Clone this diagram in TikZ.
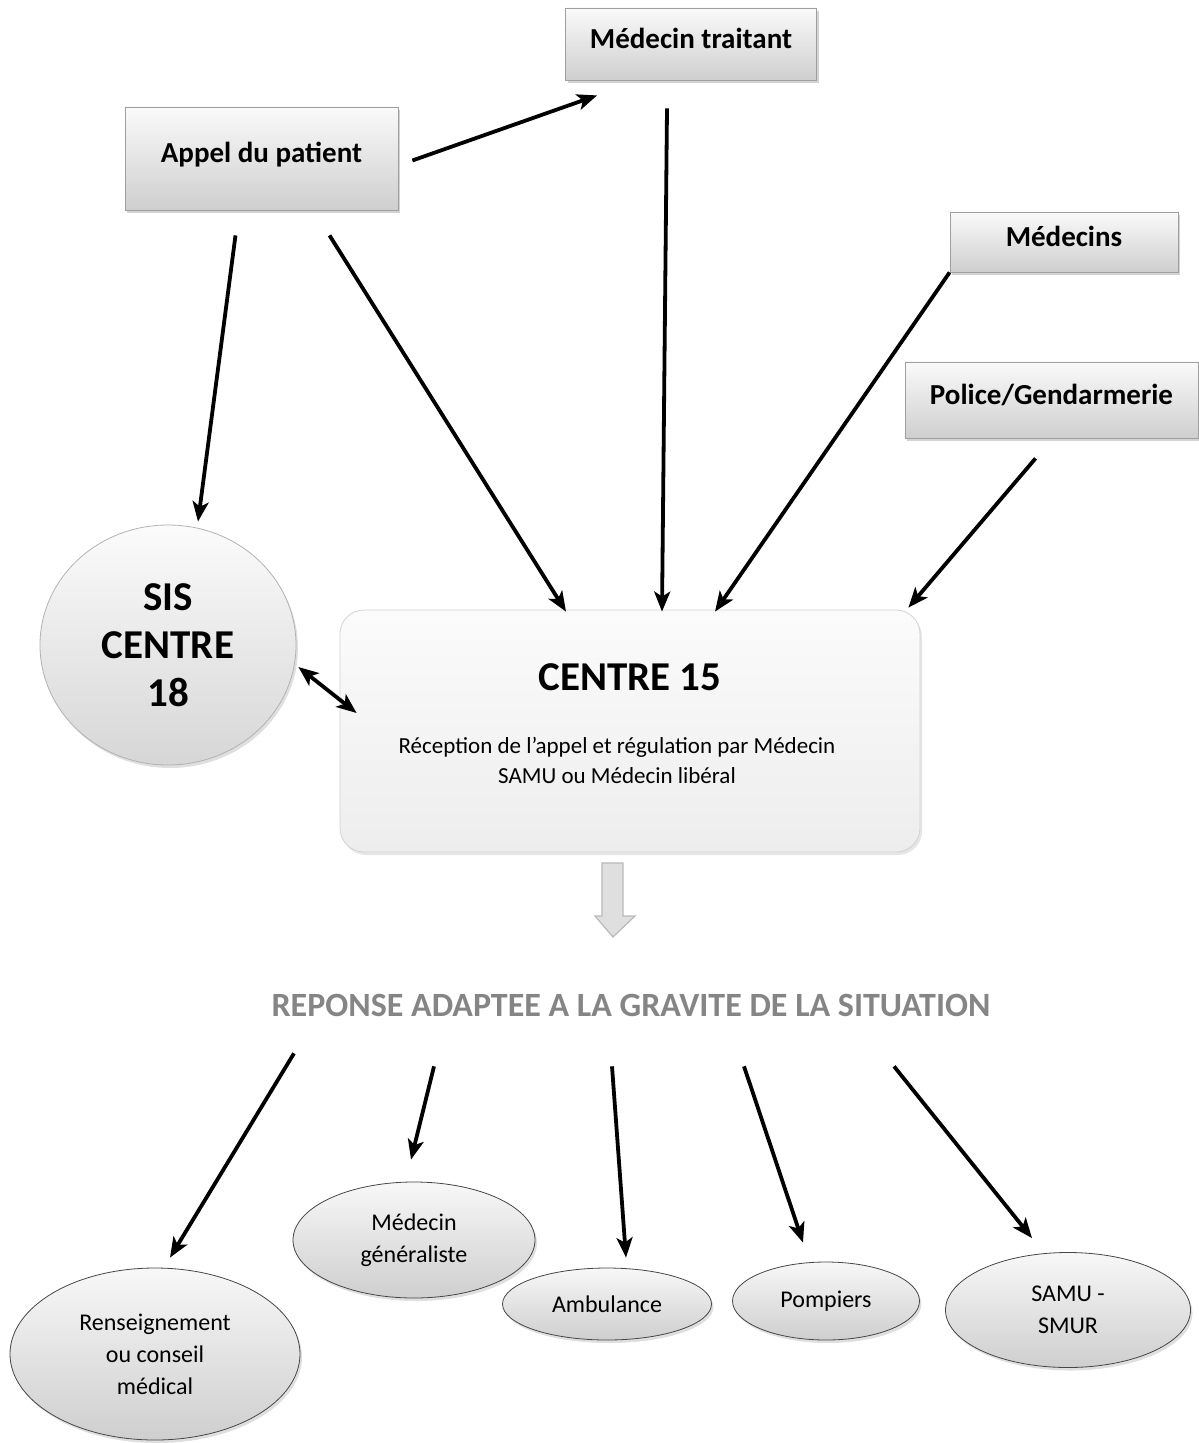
\documentclass[tikz,border=0pt]{standalone}
\usepackage{fontspec}
\setmainfont{Carlito}
\usetikzlibrary{arrows.meta,shadows,shapes.geometric}
\definecolor{repgray}{HTML}{858585}

\begin{document}
\begin{tikzpicture}[x=0.5pt,y=-0.5pt,>={Stealth[length=10pt,width=8pt,inset=2.5pt]},
    box/.style={draw=gray!75, top color=gray!4, bottom color=gray!38,
      drop shadow={opacity=0.35,shadow xshift=1pt,shadow yshift=-1.5pt},
      font=\fontsize{14.5}{17}\selectfont\bfseries, text depth=6pt, inner sep=0pt},
    bubble/.style={ellipse, draw=gray!55!black, top color=gray!6, bottom color=gray!38,
      drop shadow={opacity=0.25,shadow xshift=1pt,shadow yshift=-1.5pt},
      align=center, inner sep=0pt, font=\fontsize{12}{16}\selectfont},
    arr/.style={line width=1.9pt, ->}]

  \useasboundingbox (0,0) rectangle (1198,1443);

  \begin{scope}   % zdroje volani

    \node (traitant) [box, minimum width=125.5pt, minimum height=36pt] at (691,44)
         {Médecin traitant};
    \node (appel) [box, minimum width=136.5pt, minimum height=51.5pt] at (261.5,158.5)
         {Appel du patient};
    \node (medecins) [box, minimum width=114pt, minimum height=30pt] at (1064,242)
         {Médecins};
    \node (police) [box, minimum width=146.5pt, minimum height=38pt] at (1051.5,400)
         {Police/Gendarmerie};

  \end{scope}

  \begin{scope}   % regulace

    \node (sis) [ellipse, draw=gray!60, top color=gray!3, bottom color=gray!32,
         drop shadow={opacity=0.25,shadow xshift=1pt,shadow yshift=-1.5pt},
         minimum width=128pt, minimum height=120pt, inner sep=0pt, align=center,
         font=\fontsize{20.5}{24}\selectfont\bfseries] at (168,645)
         {SIS\\CENTRE\\18};

    \node (c15) [draw=gray!35, top color=gray!3, bottom color=gray!14, rounded corners=12pt,
         drop shadow={opacity=0.2,shadow xshift=1pt,shadow yshift=-1.5pt},
         minimum width=290pt, minimum height=121pt] at (630,731) {};
    \node (c15title) [font=\fontsize{20.5}{24}\selectfont\bfseries] at (630,677) {CENTRE 15};
    \node (c15text) [align=center, font=\fontsize{11.5}{15}\selectfont] at (617,760)
         {Réception de l’appel et régulation par Médecin\\SAMU ou Médecin libéral};

    \draw[fill=gray!25, draw=gray!55, line width=0.6pt]
         (602,863)--(623,863)--(623,916)--(635,916)--(613,937)--(595,916)--(602,916)--cycle;

    \node (reponse) [text=repgray, font=\fontsize{17}{20}\selectfont\bfseries] at (631,1005)
         {REPONSE ADAPTEE A LA GRAVITE DE LA SITUATION};

  \end{scope}

  \begin{scope}   % odpovedi

    \node (rens) [bubble, minimum width=145pt, minimum height=86pt] at (155,1354)
         {Renseignement\\ou conseil\\médical};
    \node (medgen) [bubble, minimum width=121pt, minimum height=58pt] at (414,1240)
         {Médecin\\généraliste};
    \node (amb) [bubble, minimum width=104.5pt, minimum height=36pt] at (607,1304)
         {Ambulance};
    \node (pomp) [bubble, minimum width=93.5pt, minimum height=39pt] at (826,1301)
         {Pompiers};
    \node (samu) [bubble, minimum width=122.5pt, minimum height=57.5pt] at (1068,1310)
         {SAMU -\\SMUR};

  \end{scope}

  % sipky nahore
  \draw[arr] ([shift={(7pt,-1pt)}]appel.east) -- ([shift={(16pt,-7.5pt)}]traitant.south west);
  \draw[arr] ([shift={(-13pt,-12.5pt)}]appel.south) -- ([shift={(15pt,1.5pt)}]sis.north);
  \draw[arr] ([shift={(34pt,-12.5pt)}]appel.south) -- ([shift={(-32pt,-1pt)}]c15.north);
  \draw[arr] ([shift={(-12pt,-14pt)}]traitant.south) -- ([shift={(16pt,-1pt)}]c15.north);
  \draw[arr] (medecins.south west) -- ([shift={(42.5pt,-1pt)}]c15.north);
  \draw[arr] ([shift={(-8pt,-10pt)}]police.south) -- ([shift={(-6pt,1pt)}]c15.north east);
  \draw[arr, <->] ([shift={(1pt,-11pt)}]sis.east) -- ([shift={(8.5pt,9pt)}]c15.west);

  % sipky dole
  \draw[arr] ([shift={(-168.5pt,-15pt)}]reponse.south) -- ([shift={(7.5pt,5pt)}]rens.north);
  \draw[arr] ([shift={(-98.5pt,-21.5pt)}]reponse.south) -- ([shift={(-1.5pt,11pt)}]medgen.north);
  \draw[arr] ([shift={(-9.5pt,-21.5pt)}]reponse.south) -- ([shift={(9.5pt,5pt)}]amb.north);
  \draw[arr] ([shift={(56.5pt,-21.5pt)}]reponse.south) -- ([shift={(-11.5pt,9.5pt)}]pomp.north);
  \draw[arr] ([shift={(131.5pt,-21.5pt)}]reponse.south) -- ([shift={(-18pt,7pt)}]samu.north);

\end{tikzpicture}
\end{document}
